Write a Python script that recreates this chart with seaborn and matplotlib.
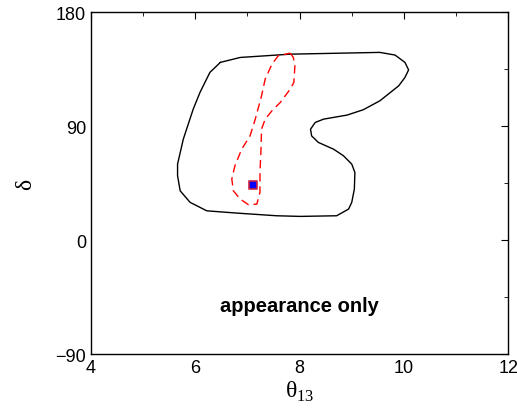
import matplotlib
matplotlib.use("Agg")
import matplotlib.pyplot as plt
import seaborn as sns

# contorno externo (linha preta)
outer_theta = [6.48, 6.86, 7.82, 9.54, 9.83, 10.02, 10.09, 10.02, 9.90, 9.54, 9.22, 8.91,
               8.46, 8.30, 8.21, 8.23, 8.36, 8.65, 8.84, 9.00, 9.06, 9.05, 9.00, 8.94,
               8.71, 8.01, 7.56, 6.80, 6.22, 5.90, 5.71, 5.66, 5.66, 5.77, 5.96, 6.09,
               6.28, 6.48]
outer_delta = [140.3, 144.2, 146.8, 148.2, 146.1, 140.3, 134.4, 128.4, 121.8, 110.0, 102.9, 98.7,
               95.5, 92.9, 87.6, 82.3, 77.1, 71.8, 66.6, 60.0, 53.4, 40.3, 29.8, 24.5,
               19.2, 18.7, 19.2, 21.3, 23.1, 29.8, 38.9, 50.8, 60.0, 79.7, 103.4, 116.6,
               132.4, 140.3]

# contorno interno (tracejado vermelho)
inner_theta = [7.82, 7.88, 7.91, 7.89, 7.82, 7.63, 7.47, 7.34, 7.27, 7.26, 7.24, 7.24,
               7.18, 7.02, 6.86, 6.73, 6.70, 6.76, 6.89, 7.05, 7.15, 7.27, 7.34, 7.47,
               7.59, 7.82]
inner_delta = [147.6, 144.2, 137.6, 124.5, 119.2, 108.7, 102.1, 95.5, 87.6, 71.8, 53.4, 37.7,
               28.4, 27.9, 32.4, 38.9, 48.2, 58.7, 71.8, 82.3, 95.5, 113.9, 127.1, 138.9,
               145.5, 147.6]

# melhor ajuste
best_theta = [7.11]
best_delta = [43.7]

sns.set_style("white")
plt.rcParams['font.family'] = ['Liberation Sans', 'DejaVu Sans']
plt.rcParams['text.color'] = 'black'
plt.rcParams['axes.labelcolor'] = 'black'
plt.rcParams['xtick.color'] = 'black'
plt.rcParams['ytick.color'] = 'black'

fig = plt.figure(figsize=(5.17, 4.10), dpi=100)
ax = fig.add_axes([0.176, 0.134, 0.807, 0.834])

sns.lineplot(x=outer_theta, y=outer_delta, sort=False, estimator=None,
             color='black', linewidth=1.0, ax=ax)
sns.lineplot(x=inner_theta, y=inner_delta, sort=False, estimator=None,
             color='red', linewidth=1.0, dashes=False, ax=ax)
ax.lines[-1].set_dashes([6, 3.5])
sns.scatterplot(x=best_theta, y=best_delta, marker='s', s=40, color='blue',
                edgecolor='#cc2244', linewidth=1.2, ax=ax, zorder=5)

ax.text(8.0, -52, 'appearance only', ha='center', va='center',
        fontsize=14.5, fontweight='bold', color='black')

ax.set_xlim(4, 12)
ax.set_ylim(-90, 180)
ax.set_xticks([4, 6, 8, 10, 12])
ax.set_xticks([5, 7, 9, 11], minor=True)
ax.set_yticks([-90, 0, 90, 180])
ax.set_yticklabels(['\u221290', '0', '90', '180'])
ax.set_yticks([-45, 45, 135], minor=True)
ax.tick_params(which='both', direction='in', top=True, right=True,
               labelsize=13, color='black', labelcolor='black')
ax.tick_params(which='major', length=5)
ax.tick_params(which='minor', length=3)
for s in ax.spines.values():
    s.set_color('black')
    s.set_linewidth(1.0)

serif = ['Liberation Serif', 'DejaVu Serif']
ax.set_xlabel('\u03b8$_{\\mathregular{13}}$', fontsize=17, family=serif, labelpad=2)
ax.set_ylabel('\u03b4', fontsize=17, family=serif, labelpad=14)

fig.savefig('out.png', dpi=100)
